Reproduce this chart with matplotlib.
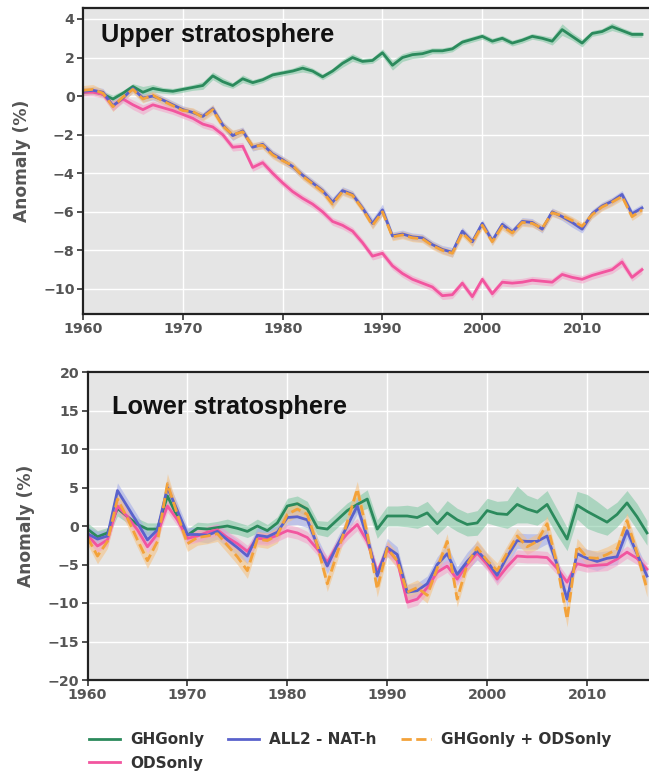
import matplotlib
matplotlib.use("Agg")
import matplotlib.pyplot as plt
import numpy as np

years = list(range(1960, 2017))

# ---------------- Upper stratosphere ----------------
up_ghg = [0.2, 0.25, 0.1, -0.15, 0.15, 0.5, 0.2, 0.4, 0.3, 0.25,
          0.35, 0.45, 0.55, 1.05, 0.75, 0.55, 0.9, 0.7, 0.85, 1.1,
          1.2, 1.3, 1.45, 1.3, 1.0, 1.3, 1.7, 2.0, 1.8, 1.85,
          2.25, 1.6, 2.0, 2.15, 2.2, 2.35, 2.35, 2.45, 2.8, 2.95,
          3.1, 2.85, 3.0, 2.75, 2.9, 3.1, 3.0, 2.85, 3.45, 3.1,
          2.75, 3.25, 3.35, 3.6, 3.4, 3.2, 3.2]
up_all2 = [0.25, 0.3, 0.2, -0.5, -0.1, 0.4, -0.1, 0.0, -0.2, -0.45,
           -0.7, -0.85, -1.05, -0.65, -1.5, -2.05, -1.8, -2.65, -2.5, -3.0,
           -3.3, -3.65, -4.1, -4.5, -4.9, -5.5, -4.9, -5.1, -5.8, -6.6,
           -5.9, -7.25, -7.15, -7.3, -7.35, -7.7, -7.95, -8.1, -7.0, -7.55,
           -6.6, -7.5, -6.65, -7.05, -6.5, -6.55, -6.9, -6.0, -6.25, -6.55,
           -6.9, -6.1, -5.7, -5.45, -5.1, -6.1, -5.8]
up_ghgods = [0.3, 0.35, 0.15, -0.55, -0.05, 0.35, -0.15, 0.05, -0.25, -0.5,
             -0.75, -0.8, -1.1, -0.7, -1.55, -2.0, -1.85, -2.6, -2.55, -3.05,
             -3.35, -3.6, -4.15, -4.55, -4.95, -5.6, -4.95, -5.15, -5.85, -6.7,
             -6.0, -7.3, -7.2, -7.35, -7.4, -7.75, -8.0, -8.15, -7.1, -7.6,
             -6.7, -7.55, -6.75, -7.1, -6.55, -6.6, -6.85, -6.05, -6.2, -6.45,
             -6.75, -6.15, -5.75, -5.5, -5.2, -6.25, -5.9]
up_ods = [0.2, 0.2, 0.1, -0.5, -0.15, -0.45, -0.7, -0.45, -0.6, -0.75,
          -0.95, -1.15, -1.45, -1.6, -2.0, -2.65, -2.6, -3.7, -3.45, -4.0,
          -4.5, -4.95, -5.3, -5.6, -6.0, -6.5, -6.7, -7.0, -7.6, -8.3,
          -8.15, -8.8, -9.2, -9.5, -9.7, -9.9, -10.35, -10.3, -9.7, -10.4,
          -9.5, -10.25, -9.65, -9.7, -9.65, -9.55, -9.6, -9.65, -9.25, -9.4,
          -9.5, -9.3, -9.15, -9.0, -8.6, -9.4, -9.0]

up_ghg_sp = [0.15, 0.15, 0.15, 0.2, 0.15, 0.15, 0.3, 0.2, 0.15, 0.15,
             0.15, 0.15, 0.2, 0.2, 0.2, 0.15, 0.2, 0.15, 0.15, 0.15,
             0.15, 0.15, 0.2, 0.15, 0.15, 0.15, 0.2, 0.2, 0.15, 0.15,
             0.2, 0.25, 0.2, 0.2, 0.2, 0.15, 0.15, 0.15, 0.15, 0.15,
             0.15, 0.15, 0.15, 0.15, 0.15, 0.15, 0.15, 0.2, 0.3, 0.2,
             0.2, 0.15, 0.15, 0.2, 0.15, 0.15, 0.15]
up_all2_sp = [0.2, 0.2, 0.2, 0.25, 0.2, 0.2, 0.2, 0.2, 0.2, 0.2,
              0.2, 0.2, 0.2, 0.2, 0.2, 0.25, 0.2, 0.2, 0.2, 0.2,
              0.2, 0.2, 0.2, 0.2, 0.2, 0.25, 0.2, 0.2, 0.2, 0.25,
              0.3, 0.2, 0.2, 0.2, 0.2, 0.2, 0.2, 0.25, 0.2, 0.2,
              0.2, 0.2, 0.2, 0.2, 0.2, 0.2, 0.2, 0.2, 0.2, 0.25,
              0.2, 0.2, 0.2, 0.2, 0.2, 0.2, 0.2]
up_ghgods_sp = [0.25, 0.25, 0.2, 0.25, 0.2, 0.2, 0.2, 0.2, 0.2, 0.2,
                0.2, 0.2, 0.2, 0.25, 0.2, 0.25, 0.2, 0.2, 0.2, 0.2,
                0.2, 0.2, 0.2, 0.2, 0.2, 0.25, 0.2, 0.2, 0.2, 0.2,
                0.2, 0.2, 0.2, 0.2, 0.2, 0.2, 0.2, 0.2, 0.2, 0.2,
                0.2, 0.2, 0.2, 0.2, 0.2, 0.2, 0.2, 0.2, 0.2, 0.2,
                0.2, 0.2, 0.2, 0.2, 0.2, 0.2, 0.2]
up_ods_sp = [0.2, 0.2, 0.2, 0.25, 0.2, 0.25, 0.25, 0.2, 0.2, 0.2,
             0.2, 0.2, 0.2, 0.2, 0.2, 0.2, 0.2, 0.2, 0.2, 0.2,
             0.2, 0.2, 0.2, 0.2, 0.2, 0.2, 0.2, 0.2, 0.2, 0.2,
             0.2, 0.2, 0.2, 0.2, 0.2, 0.2, 0.2, 0.2, 0.2, 0.2,
             0.2, 0.2, 0.2, 0.2, 0.2, 0.2, 0.2, 0.2, 0.2, 0.2,
             0.2, 0.2, 0.2, 0.2, 0.25, 0.2, 0.2]

# ---------------- Lower stratosphere ----------------
lo_ghg = [-0.4, -1.4, -0.9, 2.3, 1.2, 0.2, -0.4, -0.4, 3.9, 1.2,
          -1.2, -0.3, -0.4, -0.2, 0.0, -0.3, -0.7, 0.0, -0.6, 0.4,
          2.6, 2.9, 2.2, -0.2, -0.4, 0.8, 2.0, 2.8, 3.5, -0.4,
          1.3, 1.3, 1.3, 1.1, 1.7, 0.3, 1.7, 0.8, 0.2, 0.4,
          2.0, 1.6, 1.5, 2.8, 2.2, 1.8, 2.8, 0.5, -1.7, 2.7,
          1.9, 1.2, 0.5, 1.5, 3.0, 1.2, -0.9]
lo_all2 = [-1.0, -1.7, -1.3, 4.6, 2.5, 0.4, -1.8, -0.5, 5.0, 2.0,
           -1.1, -1.1, -1.2, -0.7, -1.8, -2.8, -3.9, -1.2, -1.4, -0.8,
           1.1, 1.2, 0.8, -2.5, -5.2, -2.5, 0.0, 2.6, -1.5, -6.5,
           -2.8, -3.7, -8.6, -8.4, -7.5, -5.0, -3.6, -6.3, -4.6, -3.2,
           -4.6, -6.4, -4.0, -1.9, -2.0, -2.0, -1.3, -5.0, -9.5, -3.6,
           -4.2, -4.6, -4.2, -4.0, -0.6, -3.6, -6.5]
lo_ghgods = [-1.5, -3.9, -2.0, 3.5, 1.0, -1.8, -4.5, -2.0, 5.5, 1.5,
             -2.3, -1.5, -1.3, -1.0, -2.5, -4.0, -5.8, -1.7, -1.9, -1.2,
             1.5, 2.2, 1.5, -2.5, -7.5, -3.5, 0.5, 4.8, -1.0, -8.2,
             -2.9, -4.5, -8.6, -8.0, -9.0, -5.5, -2.0, -9.5, -5.0, -2.8,
             -4.5, -5.8, -3.5, -1.3, -2.7, -2.0, 0.3, -5.0, -12.1, -2.6,
             -4.1, -4.2, -3.7, -3.0, 0.7, -3.5, -8.2]
lo_ods = [-1.2, -2.6, -1.8, 2.6, 1.2, -0.5, -2.7, -1.0, 2.6, 0.8,
          -1.6, -1.3, -0.8, -0.5, -1.5, -2.3, -3.3, -1.6, -1.7, -1.2,
          -0.6, -0.9, -1.5, -3.0, -4.7, -2.5, -1.0, 0.2, -2.0, -6.0,
          -3.0, -4.5, -9.9, -9.5, -8.0, -6.0, -5.2, -6.9, -5.0, -3.5,
          -5.0, -6.9, -5.3, -3.9, -4.0, -4.0, -4.1, -5.5, -7.3, -4.9,
          -5.2, -5.1, -5.0, -4.3, -3.4, -4.2, -5.6]

lo_ghg_sp = [0.8, 0.8, 0.7, 1.0, 0.8, 0.8, 0.8, 0.8, 1.0, 0.8,
             0.8, 0.8, 0.8, 0.8, 0.9, 0.8, 0.8, 0.9, 0.8, 0.8,
             1.0, 1.0, 1.0, 0.9, 1.0, 1.0, 1.0, 1.0, 1.2, 1.2,
             1.3, 1.3, 1.4, 1.4, 1.5, 1.4, 1.6, 1.5, 1.5, 1.6,
             1.6, 1.6, 1.8, 2.4, 1.8, 1.7, 1.8, 1.7, 1.5, 1.8,
             2.2, 2.0, 1.7, 1.6, 1.6, 1.7, 1.6]
lo_all2_sp = [0.9, 1.0, 0.8, 1.0, 1.0, 1.0, 1.0, 0.9, 1.0, 1.0,
              0.9, 0.9, 1.0, 1.0, 1.0, 1.0, 1.0, 1.0, 0.9, 0.9,
              1.0, 1.0, 1.0, 1.0, 1.0, 1.0, 1.0, 1.0, 1.0, 1.0,
              1.2, 1.0, 1.0, 1.0, 1.0, 1.0, 1.2, 1.0, 1.2, 1.2,
              1.0, 1.0, 1.2, 1.0, 1.0, 1.0, 1.0, 1.0, 1.0, 1.0,
              1.2, 1.2, 1.0, 1.0, 1.0, 1.0, 1.0]
lo_ghgods_sp = [0.9, 1.0, 0.9, 1.2, 1.0, 1.0, 1.0, 1.0, 1.3, 1.0,
                1.0, 1.0, 1.0, 1.0, 1.0, 1.0, 1.0, 1.0, 1.0, 1.0,
                1.0, 1.0, 1.0, 1.0, 1.0, 1.0, 1.0, 1.0, 1.0, 1.0,
                1.0, 1.0, 1.0, 1.0, 1.0, 1.0, 1.0, 1.0, 1.0, 1.0,
                1.0, 1.0, 1.0, 1.0, 1.0, 1.0, 1.0, 1.0, 1.0, 1.0,
                1.0, 1.0, 1.0, 1.0, 1.0, 1.0, 1.0]
lo_ods_sp = [0.8, 0.8, 0.8, 0.8, 0.8, 0.8, 0.8, 0.8, 0.8, 0.8,
             0.8, 0.8, 0.8, 0.8, 0.8, 0.8, 0.8, 0.8, 0.8, 0.8,
             0.8, 0.8, 0.8, 0.8, 0.8, 0.8, 0.8, 0.8, 0.8, 0.8,
             0.8, 0.8, 0.8, 0.8, 0.8, 0.8, 0.8, 0.8, 0.8, 0.8,
             0.8, 0.8, 0.8, 0.8, 0.8, 0.8, 0.8, 0.8, 0.8, 0.8,
             0.8, 0.8, 0.8, 0.8, 0.8, 0.8, 0.8]

labels = ["GHGonly", "ALL2 - NAT-h", "GHGonly + ODSonly", "ODSonly"]
line_colors = ["#2b8a5c", "#5a62cc", "#f3a23a", "#f2559f"]
band_colors = ["#7cc7a0", "#9fa8ea", "#f6c07e", "#f5a0c8"]
panel_titles = ["Upper stratosphere", "Lower stratosphere"]
up_yticks = [-10, -8, -6, -4, -2, 0, 2, 4]
lo_yticks = [-20, -15, -10, -5, 0, 5, 10, 15, 20]
xticks = [1960, 1970, 1980, 1990, 2000, 2010]

W, H = 649, 776
fig = plt.figure(figsize=(W / 100, H / 100), dpi=100)
fig.patch.set_facecolor("white")

ax1 = fig.add_axes([83 / W, (H - 314) / H, (W - 83) / W, 306 / H])
ax2 = fig.add_axes([87.5 / W, (H - 680) / H, (W - 87.5) / W, 308 / H])

tick_col = "#555555"

def style(ax, yticks, ylim, xlim):
    ax.set_facecolor("#e5e5e5")
    ax.set_xlim(*xlim)
    ax.set_ylim(*ylim)
    ax.set_yticks(yticks)
    ax.set_xticks(xticks)
    ax.grid(True, color="white", linewidth=1.0)
    ax.set_axisbelow(True)
    for s in ["top", "left", "bottom"]:
        ax.spines[s].set_color("#222222")
        ax.spines[s].set_linewidth(1.6)
    ax.spines["right"].set_visible(False)
    ax.tick_params(axis="both", direction="out", length=4, width=1.2,
                   color="#333333", labelcolor=tick_col, labelsize=10.2,
                   pad=2)
    for lab in ax.get_xticklabels() + ax.get_yticklabels():
        lab.set_fontweight("bold")
    ax.set_ylabel("Anomaly (%)", fontsize=12.3, fontweight="bold",
                  color=tick_col, labelpad=6)

def draw(ax, series, spreads):
    for vals, sp, bc in zip(series, spreads, band_colors):
        v = np.array(vals)
        s = np.array(sp)
        ax.fill_between(years, v - s, v + s, color=bc, alpha=0.55,
                        linewidth=0)
    handles = {}
    order = [0, 3, 1, 2]
    for i in order:
        ls = "--" if i == 2 else "-"
        h, = ax.plot(years, series[i], color=line_colors[i], linewidth=2.0,
                     linestyle=ls, label=labels[i])
        handles[i] = h
    return handles

draw(ax1, [up_ghg, up_all2, up_ghgods, up_ods],
     [up_ghg_sp, up_all2_sp, up_ghgods_sp, up_ods_sp])
hd = draw(ax2, [lo_ghg, lo_all2, lo_ghgods, lo_ods],
          [lo_ghg_sp, lo_all2_sp, lo_ghgods_sp, lo_ods_sp])

style(ax1, up_yticks, (-11.3, 4.57), (1960, 2016.7))
style(ax2, lo_yticks, (-20, 20), (1960, 2016.2))
ax1.yaxis.set_label_coords(-0.092, 0.5)
ax2.yaxis.set_label_coords(-0.093, 0.5)

ax1.text(0.032, 0.889, panel_titles[0], transform=ax1.transAxes,
         fontsize=18.3, fontweight="bold", family="Liberation Sans",
         color="#111111", va="baseline", ha="left")
ax2.text(0.043, 0.864, panel_titles[1], transform=ax2.transAxes,
         fontsize=18.3, fontweight="bold", family="Liberation Sans",
         color="#111111", va="baseline", ha="left")

leg_order = [0, 3, 1, 2]
leg = fig.legend([hd[i] for i in leg_order], [labels[i] for i in leg_order],
                 ncol=3, loc="center", bbox_to_anchor=(0.54, 0.0315),
                 frameon=False, handlelength=2.0, columnspacing=1.6,
                 handletextpad=0.65, labelspacing=0.55,
                 prop={"weight": "bold", "size": 11})
for t in leg.get_texts():
    t.set_color("#333333")

fig.savefig("out.png", dpi=100)
